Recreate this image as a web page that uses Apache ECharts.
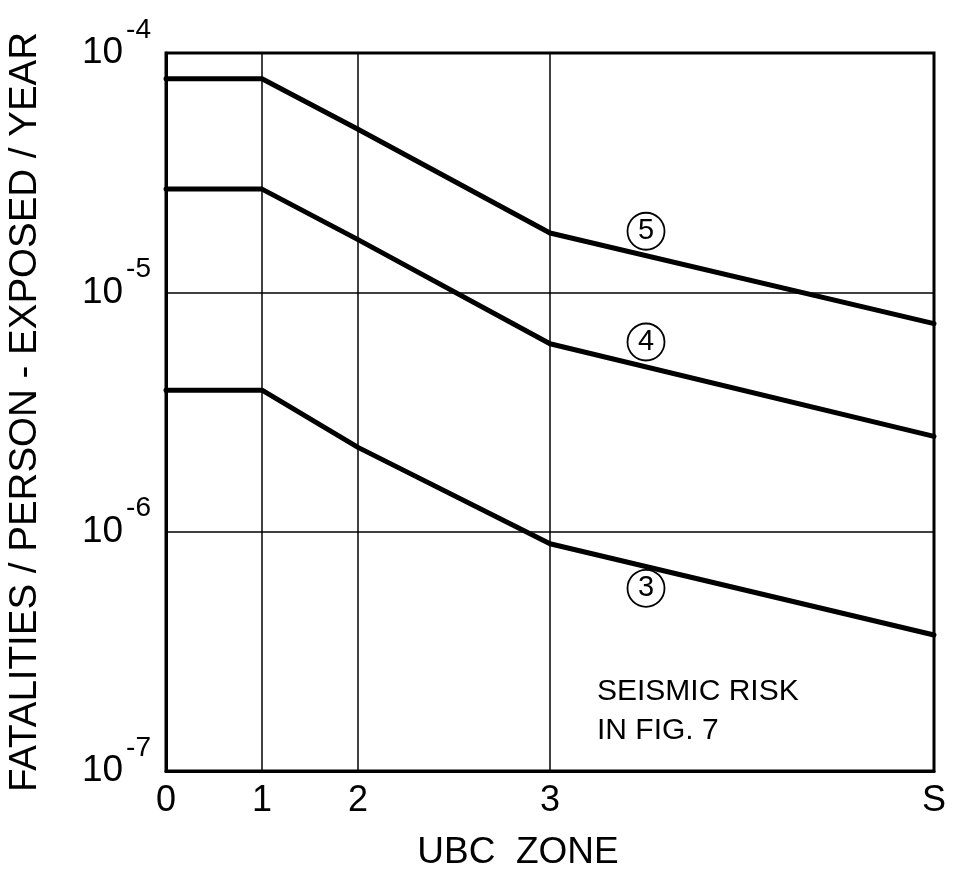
<!DOCTYPE html>
<html>
<head>
<meta charset="utf-8">
<script src="https://cdn.jsdelivr.net/npm/echarts@6/dist/echarts.min.js"></script>
<style>
  html, body { margin: 0; padding: 0; background: #fff; }
  #chart { width: 953px; height: 876px; }
</style>
</head>
<body>
<div id="chart"></div>
<script>
// UBC zones placed along the x axis (spacing doubles from zone to zone)
const zonePositions = [0, 1, 2, 4, 8];
const zoneLabels = ['0', '1', '2', '3', 'S'];

// Fatalities per person-exposed per year, one value per zone
const curve5 = [7.8e-5, 7.8e-5, 4.8e-5, 1.77e-5, 7.4e-6];
const curve4 = [2.7e-5, 2.7e-5, 1.66e-5, 6.1e-6, 2.5e-6];
const curve3 = [3.9e-6, 3.9e-6, 2.25e-6, 8.9e-7, 3.7e-7];

const curveNames = ['5', '4', '3'];
const curveValues = [curve5, curve4, curve3];
// where each curve's circled tag sits: [zone position, value]
const curveTags = [[5, 1.8e-5], [5, 6.2e-6], [5, 5.8e-7]];

const FONT = '"Liberation Sans", Arial, sans-serif';

const chart = echarts.init(document.getElementById('chart'), null, { renderer: 'canvas' });

const series = curveValues.map((vals, i) => ({
  name: curveNames[i],
  type: 'line',
  data: zonePositions.map((x, j) => [x, vals[j]]),
  symbol: 'none',
  lineStyle: { color: '#000', width: 5, cap: 'round', join: 'round' },
  z: 3,
  silent: true,
  markPoint: {
    symbol: 'circle',
    symbolSize: 37,
    silent: true,
    itemStyle: { color: 'rgba(0,0,0,0)', borderColor: '#000', borderWidth: 1.8 },
    label: {
      show: true, position: 'inside', color: '#000',
      fontFamily: FONT, fontSize: 29, formatter: curveNames[i]
    },
    data: [{ coord: curveTags[i] }]
  }
}));

// vertical grid lines at the inner zone boundaries
series[0].markLine = {
  silent: true,
  symbol: 'none',
  label: { show: false },
  lineStyle: { color: '#000', width: 1.5, type: 'solid' },
  data: zonePositions.slice(1, -1).map(x => ({ xAxis: x }))
};

const option = {
  backgroundColor: '#fff',
  animation: false,
  grid: {
    left: 166, right: 19, top: 53, bottom: 105,
    outerBoundsMode: 'none',
    containLabel: false,
    show: true, borderColor: '#000', borderWidth: 3, backgroundColor: 'transparent'
  },
  xAxis: {
    type: 'value',
    min: 0, max: 8, interval: 1,
    name: 'UBC  ZONE',
    nameLocation: 'middle',
    nameGap: 63,
    nameTextStyle: { color: '#000', fontFamily: FONT, fontSize: 37, padding: [0, 64, 0, 0] },
    axisLine: { show: true, lineStyle: { color: '#000', width: 3 } },
    axisTick: { show: false },
    splitLine: { show: false },
    axisLabel: {
      color: '#000', fontFamily: FONT, fontSize: 36, margin: 12,
      formatter: v => {
        const k = zonePositions.indexOf(v);
        return k >= 0 ? zoneLabels[k] : '';
      }
    }
  },
  yAxis: {
    type: 'log',
    logBase: 10,
    min: 1e-7, max: 1e-4,
    name: 'FATALITIES / PERSON - EXPOSED / YEAR',
    nameLocation: 'middle',
    nameRotate: 90,
    nameGap: 121,
    nameTextStyle: { color: '#000', fontFamily: FONT, fontSize: 38.5 },
    axisLine: { show: true, lineStyle: { color: '#000', width: 3 } },
    axisTick: { show: false },
    splitLine: { show: true, lineStyle: { color: '#000', width: 1.5 } },
    minorSplitLine: { show: false },
    axisLabel: {
      margin: 15,
      formatter: v => '{a|10}{b|-' + Math.round(-Math.log10(v)) + '}',
      rich: {
        a: { color: '#000', fontFamily: FONT, fontSize: 37, lineHeight: 37, verticalAlign: 'middle' },
        b: { color: '#000', fontFamily: FONT, fontSize: 28, lineHeight: 28, padding: [0, 0, 46, 3], verticalAlign: 'middle' }
      }
    }
  },
  graphic: [
    {
      type: 'text', x: 597, y: 692, silent: true,
      style: { text: 'SEISMIC RISK', font: '30px ' + FONT, fill: '#000', verticalAlign: 'middle' }
    },
    {
      type: 'text', x: 597, y: 731, silent: true,
      style: { text: 'IN FIG. 7', font: '30px ' + FONT, fill: '#000', verticalAlign: 'middle' }
    }
  ],
  series
};

chart.setOption(option);
</script>
</body>
</html>
